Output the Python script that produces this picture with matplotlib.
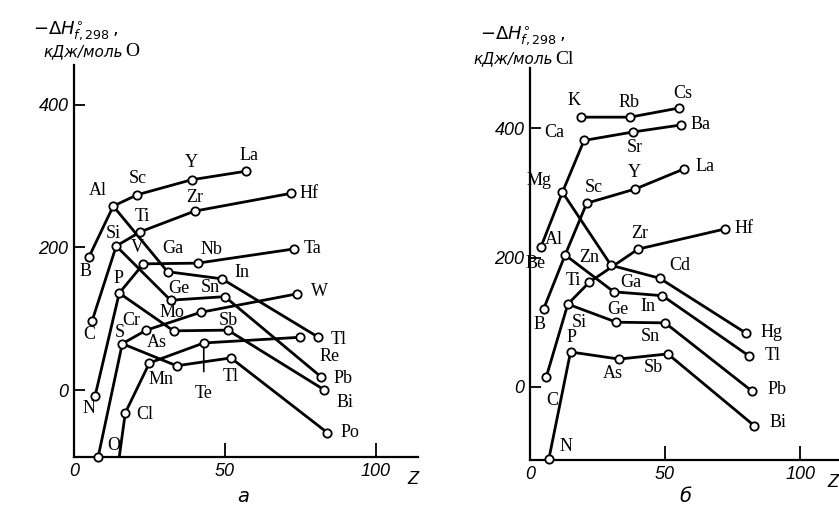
import matplotlib
matplotlib.use('Agg')
import matplotlib.pyplot as plt

# panel a: -dH(f,298) of oxides, kJ per mole O
ox_names = ['B', 'C', 'N', 'O', 'F', 'Al', 'Si', 'P', 'S', 'Cl',
            'Sc', 'Ti', 'V', 'Cr', 'Mn', 'Ga', 'Ge', 'As', 'Se',
            'Y', 'Zr', 'Nb', 'Mo', 'Tc', 'In', 'Sn', 'Sb', 'Te',
            'La', 'Hf', 'Ta', 'W', 'Re', 'Tl', 'Pb', 'Bi', 'Po']
ox_z = [5, 6, 7, 8, 9, 13, 14, 15, 16, 17,
        21, 22, 23, 24, 25, 31, 32, 33, 34,
        39, 40, 41, 42, 43, 49, 50, 51, 52,
        57, 72, 73, 74, 75, 81, 82, 83, 84]
ox_dh = [187, 97, -8, -94, -280, 258, 202, 136, 65, -32,
         274, 222, 177, 84, 38, 166, 126, 83, 34,
         295, 251, 178, 109, 66, 156, 131, 84, 45,
         307, 276, 198, 135, 74, 74, 18, 0, -60]
ox_chains = [['B', 'Al', 'Sc', 'Y', 'La'], ['Al', 'Ga', 'In', 'Tl'],
             ['C', 'Si', 'Ti', 'Zr', 'Hf'], ['Si', 'Ge', 'Sn', 'Pb'],
             ['N', 'P', 'V', 'Nb', 'Ta'], ['P', 'As', 'Sb', 'Bi'],
             ['O', 'S', 'Cr', 'Mo', 'W'], ['S', 'Se', 'Te', 'Po'],
             ['F', 'Cl', 'Mn', 'Tc', 'Re']]
# text printed next to each point (as it reads in the original figure)
ox_text = {'Tc': 'Te', 'Te': 'Tl', 'Se': '', 'F': None}

# panel b: -dH(f,298) of chlorides, kJ per mole Cl
cl_names = ['Be', 'B', 'C', 'N', 'Mg', 'Al', 'Si', 'P',
            'K', 'Ca', 'Sc', 'Ti', 'Zn', 'Ga', 'Ge', 'As',
            'Rb', 'Sr', 'Y', 'Zr', 'Cd', 'In', 'Sn', 'Sb',
            'Cs', 'Ba', 'La', 'Hf', 'Hg', 'Tl', 'Pb', 'Bi']
cl_z = [4, 5, 6, 7, 12, 13, 14, 15,
        19, 20, 21, 22, 30, 31, 32, 33,
        37, 38, 39, 40, 48, 49, 50, 51,
        55, 56, 57, 72, 80, 81, 82, 83]
cl_dh = [216, 120, 15, -111, 301, 204, 128, 54,
         417, 381, 284, 162, 188, 147, 100, 43,
         417, 394, 306, 213, 168, 141, 99, 51,
         431, 405, 337, 244, 83, 48, -6, -60]
cl_chains = [['Be', 'Mg', 'Ca', 'Sr', 'Ba'], ['K', 'Rb', 'Cs'],
             ['Mg', 'Zn', 'Cd', 'Hg'], ['B', 'Al', 'Sc', 'Y', 'La'],
             ['Al', 'Ga', 'In', 'Tl'], ['C', 'Si', 'Ti', 'Zr', 'Hf'],
             ['Si', 'Ge', 'Sn', 'Pb'], ['N', 'P', 'As', 'Sb', 'Bi']]
cl_text = {}

# label offsets from the point, pixels (right, down)
ox_off = {'B': (-4, 15), 'Al': (-15, -16), 'Sc': (0, -16), 'Y': (0, -17),
          'La': (3, -16), 'Hf': (18, 0), 'Zr': (0, -14), 'Ti': (2, -15),
          'Si': (-3, -13), 'V': (-6, -16), 'Ga': (5, -23), 'Nb': (14, -14),
          'Ta': (18, 0), 'In': (20, -6), 'P': (-1, -15), 'C': (-3, 14),
          'Ge': (8, -12), 'Sn': (-15, -9), 'W': (22, -2), 'Mo': (-29, 0),
          'Cr': (-15, -10), 'Sb': (0, -10), 'S': (-2, -11), 'As': (-17, 12),
          'Tl': (20, 2), 'Re': (29, 19), 'Pb': (22, 1), 'Bi': (20, 12),
          'Mn': (12, 17), 'Te': (0, 19), 'Tc': (0, 51), 'N': (-6, 13),
          'Cl': (19, 2), 'O': (16, -12), 'Po': (22, 0)}
cl_off = {'K': (-7, -17), 'Rb': (-1, -15), 'Cs': (4, -15), 'Ba': (19, 0),
          'Ca': (-30, -8), 'Sr': (2, 15), 'La': (21, -2), 'Mg': (-23, -12),
          'Sc': (7, -16), 'Y': (-1, -16), 'Zr': (2, -16), 'Hf': (19, -1),
          'Al': (-11, -15), 'Be': (-5, 16), 'Zn': (-22, -8), 'Cd': (20, -13),
          'Ti': (-16, -2), 'Ga': (17, -9), 'Ge': (1, -13), 'In': (-14, 11),
          'B': (-4, 15), 'Si': (11, 18), 'P': (1, -14), 'Sn': (-15, 14),
          'Hg': (25, -1), 'Tl': (24, 0), 'As': (-6, 14), 'Sb': (-14, 14),
          'Pb': (25, -1), 'Bi': (24, -3), 'C': (6, 23), 'N': (17, -12)}

W, H = 839, 508
fig = plt.figure(figsize=(W / 100, H / 100), dpi=100)
tick_font = dict(family=['Liberation Sans Narrow', 'Liberation Sans'], style='italic', size=13)
elem_font = dict(family='Liberation Serif', size=13)


def draw_panel(rect, ylim, names, z, dh, chains, text, off, leader=()):
    ax = fig.add_axes([rect[0] / W, 1 - rect[3] / H, (rect[2] - rect[0]) / W, (rect[3] - rect[1]) / H])
    pos = {n: (zz, v) for n, zz, v in zip(names, z, dh)}
    for ch in chains:
        ax.plot([pos[n][0] for n in ch], [pos[n][1] for n in ch], color='black', lw=2, zorder=2)
    for n in names:
        t = text.get(n, n)
        if t is None:
            continue
        ax.plot(*pos[n], 'o', ms=6, mfc='white', mec='black', mew=1.3, zorder=3, clip_on=False)
        if not t:
            continue
        dx, dy = off[n]
        if n in leader:
            ax.annotate(t, pos[n], xytext=(dx, -dy), textcoords='offset pixels',
                        ha='center', va='center', **elem_font,
                        arrowprops=dict(arrowstyle='-', lw=1.2, color='black', shrinkA=8, shrinkB=3))
        else:
            ax.annotate(t, pos[n], xytext=(dx, -dy), textcoords='offset pixels',
                        ha='center', va='center', **elem_font)
    ax.set_xlim(0, 114)
    ax.set_ylim(*ylim)
    for s in ['top', 'right']:
        ax.spines[s].set_visible(False)
    for s in ['left', 'bottom']:
        ax.spines[s].set_linewidth(1.6)
    ax.set_yticks([0, 200, 400])
    ax.set_xticks([0, 50, 100])
    ax.tick_params(axis='y', direction='in', length=8, width=1.3, pad=4)
    ax.tick_params(axis='x', direction='in', length=10, width=1.3, pad=4)
    for lab in ax.get_xticklabels() + ax.get_yticklabels():
        lab.set(**tick_font)
    ax.text(1.0, -0.035, 'Z', transform=ax.transAxes, ha='right', va='top', **tick_font)
    return ax


draw_panel((74, 65, 418, 457), (-94, 456), ox_names, ox_z, ox_dh, ox_chains, ox_text, ox_off, leader=('Tc',))
draw_panel((530, 68, 838, 460), (-113, 493), cl_names, cl_z, cl_dh, cl_chains, cl_text, cl_off)

# axis titles
lab_font = dict(family='DejaVu Sans', style='italic', size=11)
dh_txt = r'$\mathit{-\Delta H}^{\circ}_{\mathit{f,298}}\,$,'
fig.text(76 / W, 1 - 31 / H, dh_txt, ha='center', va='center', fontsize=13)
fig.text(123 / W, 1 - 52 / H, 'кДж/моль', ha='right', va='center', **lab_font)
fig.text(125 / W, 1 - 52 / H, 'O', ha='left', va='center', family='Liberation Serif', size=14)
fig.text(523 / W, 1 - 36 / H, dh_txt, ha='center', va='center', fontsize=13)
fig.text(553 / W, 1 - 59 / H, 'кДж/моль', ha='right', va='center', **lab_font)
fig.text(555 / W, 1 - 59 / H, 'Cl', ha='left', va='center', family='Liberation Serif', size=14)

# panel letters
fig.text(243 / W, 1 - 496 / H, 'a', ha='center', va='center', family='DejaVu Sans', style='italic', size=14)
fig.text(685 / W, 1 - 497 / H, 'б', ha='center', va='center', family='DejaVu Sans', style='italic', size=14)

fig.savefig('out.png', dpi=100)
